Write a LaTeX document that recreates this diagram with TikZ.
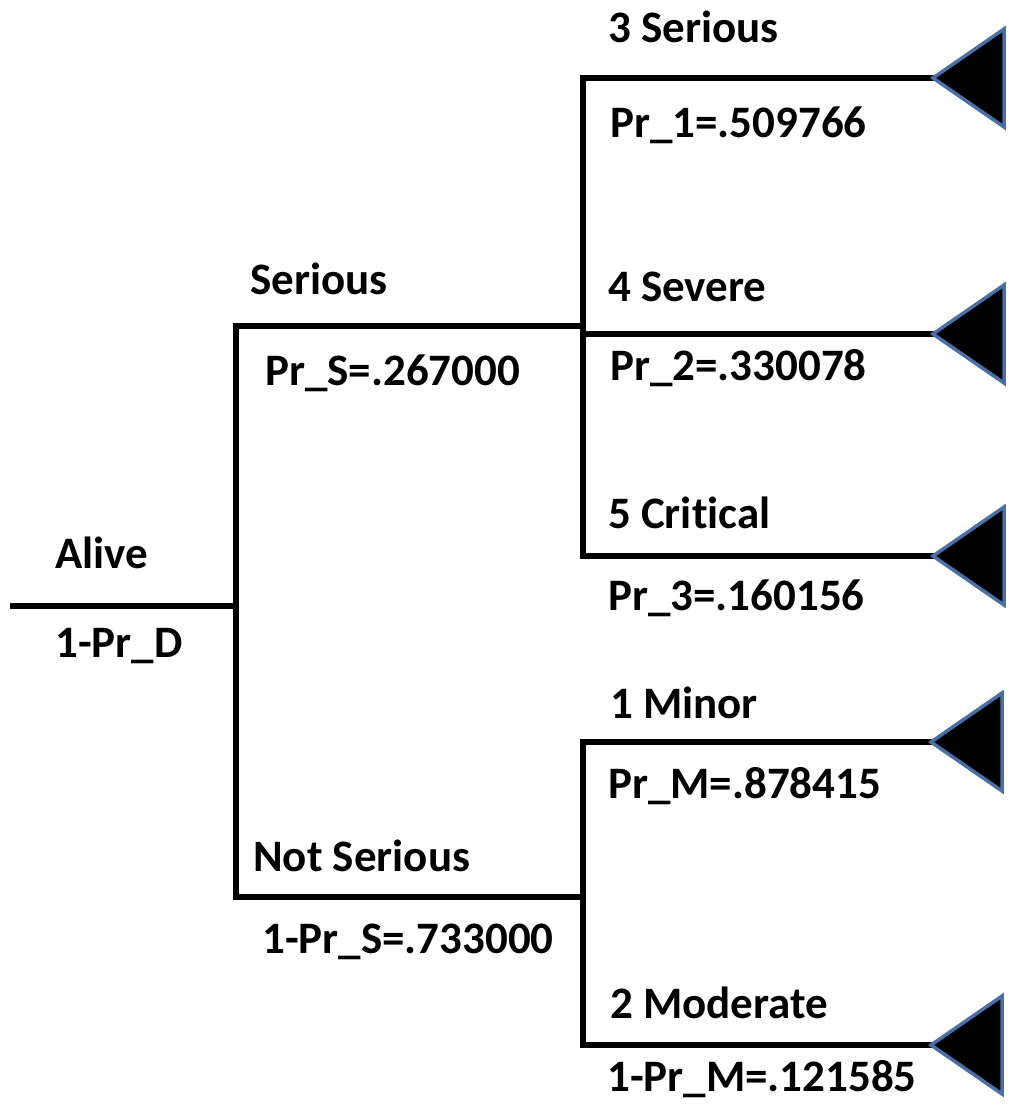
\documentclass[tikz,border=0pt]{standalone}
\usepackage{fontspec}
\setmainfont[Ligatures=NoCommon]{Carlito}
\definecolor{triblue}{HTML}{4A6FA5}
\begin{document}
\begin{tikzpicture}[x=1pt,y=-1pt,
  branch/.style={line width=6pt, line join=miter, line cap=rect},
  lbl/.style={anchor=west, inner sep=0pt, text height=0.64em, text depth=0pt, yshift=-10pt,
    font=\fontsize{45}{54}\selectfont\bfseries},
  tri/.style={fill=black, draw=triblue, line width=3.5pt, line join=miter}]
\useasboundingbox (0,0) rectangle (1024,1113);
% coordinates
\coordinate (a0) at (13,606);
\coordinate (a1) at (236,606);
\coordinate (sEnd) at (583,326);
\coordinate (sCorner) at (236,326);
\coordinate (nCorner) at (236,897);
\coordinate (nEnd) at (583,897);
\coordinate (uTop) at (583,78);
\coordinate (uBot) at (583,556);
\coordinate (uMid) at (583,334);
\coordinate (lTop) at (583,742);
\coordinate (lBot) at (583,1045);
\coordinate (t1) at (933,78);
\coordinate (t2) at (933,334);
\coordinate (t3) at (933,556);
\coordinate (t4) at (931,742);
\coordinate (t5) at (931,1045);
% lines
\draw[branch] (a0) -- (a1);
\draw[branch] (sEnd) -- (sCorner) -- (nCorner) -- (nEnd);
\draw[branch] (t1) -- (uTop) -- (uBot) -- (t3);
\draw[branch] (uMid) -- (t2);
\draw[branch] (t4) -- (lTop) -- (lBot) -- (t5);
% triangles
\foreach \t in {t1,t2,t3,t4,t5}{
  \draw[tri] (\t) -- ++(71,-49) -- ++(0,98) -- cycle;
}
% labels
\node[lbl] (alive) at (55,555) {Alive};
\node[lbl] (prd) at (55,644) {1-Pr\_D};
\node[lbl] (ser) at (250,281) {Serious};
\node[lbl] (prs) at (265,372) {Pr\_S=.267000};
\node[lbl] (nser) at (253,858) {Not Serious};
\node[lbl] (nprs) at (262,940) {1-Pr\_S=.733000};
\node[lbl] (l3) at (608,29) {3 Serious};
\node[lbl] (p1) at (610,124) {Pr\_1=.509766};
\node[lbl] (l4) at (608,288) {4 Severe};
\node[lbl] (p2) at (610,367) {Pr\_2=.330078};
\node[lbl] (l5) at (608,515) {5 Critical};
\node[lbl] (p3) at (608,597) {Pr\_3=.160156};
\node[lbl] (l1) at (610,705) {1 Minor};
\node[lbl] (pm) at (608,785) {Pr\_M=.878415};
\node[lbl] (l2) at (610,1005) {2 Moderate};
\node[lbl] (npm) at (607,1078) {1-Pr\_M=.121585};
\end{tikzpicture}
\end{document}
